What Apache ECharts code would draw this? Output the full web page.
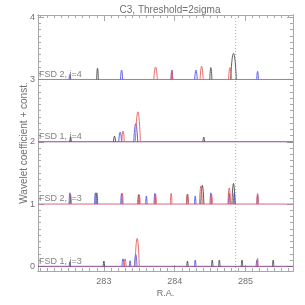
<!DOCTYPE html>
<html>
<head>
<meta charset="utf-8">
<script src="https://cdn.jsdelivr.net/npm/echarts@6/dist/echarts.min.js"></script>
<style>html,body{margin:0;padding:0;background:#fff}#c{width:305px;height:305px}</style>
</head>
<body>
<div id="c"></div>
<script>
// ---- data (R.A., wavelet coefficient), '-' separates peaks ----
var rowLabels = ['FSD 1, j=3', 'FSD 2, j=3', 'FSD 1, j=4', 'FSD 2, j=4'];
var rowOffsets = [0, 1, 2, 3];
var xTickLabels = [283, 284, 285];
var yTickLabels = [0, 1, 2, 3, 4];
var markRA = 284.86;

var r0Black = [[282.99,0],[283.00,0.085],[283.01,0],'-',[284.17,0],[284.18,0.085],[284.19,0],'-',[284.52,0],[284.53,0.10],[284.54,0],'-',[284.62,0],[284.63,0.10],[284.64,0],'-',[284.94,0],[284.95,0.10],[284.96,0],'-',[285.38,0],[285.39,0.10],[285.40,0]];
var r0Blue = [[282.51,0],[282.52,0.075],[282.53,0],'-',[283.255,0],[283.27,0.12],[283.285,0],'-',[283.36,0],[283.37,0.09],[283.38,0],'-',[283.432,0],[283.45,0.19],[283.468,0],'-',[284.28,0],[284.29,0.10],[284.30,0],'-',[285.15,0],[285.16,0.10],[285.17,0]];
var r0Red = [[283.288,0],[283.30,0.12],[283.312,0],'-',[283.44,0],[283.47,0.45],[283.50,0],'-',[285.162,0],[285.17,0.13],[285.178,0]];

var r1Black = [[282.888,0],[282.90,0.18],[282.912,0],'-',[283.478,0],[283.49,0.15],[283.502,0],'-',[284.168,0],[284.18,0.16],[284.192,0],'-',[284.368,0],[284.39,0.30],[284.412,0],'-',[284.808,0],[284.83,0.33],[284.852,0]];
var r1Blue = [[282.508,0],[282.52,0.18],[282.532,0],'-',[282.868,0],[282.88,0.18],[282.892,0],'-',[283.238,0],[283.25,0.17],[283.262,0],'-',[283.59,0],[283.60,0.13],[283.61,0],'-',[283.708,0],[283.72,0.17],[283.732,0],'-',[284.28,0],[284.29,0.13],[284.30,0],'-',[284.498,0],[284.51,0.18],[284.522,0],'-',[284.76,0],[284.77,0.17],[284.78,0],'-',[284.828,0],[284.84,0.18],[284.852,0],'-',[285.16,0],[285.17,0.14],[285.18,0]];
var r1Red = [[282.518,0],[282.53,0.15],[282.542,0],'-',[283.248,0],[283.26,0.17],[283.272,0],'-',[283.488,0],[283.50,0.15],[283.512,0],'-',[283.718,0],[283.73,0.16],[283.742,0],'-',[283.938,0],[283.95,0.17],[283.962,0],'-',[284.168,0],[284.18,0.16],[284.192,0],'-',[284.35,0],[284.37,0.29],[284.39,0],'-',[284.508,0],[284.52,0.16],[284.532,0],'-',[284.752,0],[284.77,0.26],[284.788,0],'-',[285.158,0],[285.17,0.17],[285.182,0]];

var r2Black = [[282.52,0],[282.53,0.08],[282.54,0],'-',[283.135,0],[283.15,0.09],[283.165,0],'-',[284.398,0],[284.41,0.075],[284.422,0]];
var r2Blue = [[283.21,0],[283.23,0.155],[283.25,0],'-',[283.422,0],[283.45,0.29],[283.478,0]];
var r2Red = [[283.252,0],[283.27,0.17],[283.288,0],'-',[283.445,0],[283.48,0.48],[283.515,0]];

var r3Black = [[282.898,0],[282.91,0.18],[282.922,0],'-',[284.495,0],[284.51,0.19],[284.525,0],'-',[284.79,0],[284.83,0.42],[284.87,0]];
var r3Blue = [[282.508,0],[282.52,0.08],[282.532,0],'-',[283.235,0],[283.25,0.15],[283.265,0],'-',[283.948,0],[283.96,0.15],[283.972,0],'-',[284.282,0],[284.30,0.15],[284.318,0],'-',[285.158,0],[285.17,0.13],[285.182,0]];
var r3Red = [[283.705,0],[283.73,0.20],[283.755,0],'-',[283.948,0],[283.96,0.14],[283.972,0],'-',[284.358,0],[284.38,0.21],[284.402,0],'-',[284.76,0],[284.78,0.19],[284.80,0]];

var rows = [[r0Black, r0Blue, r0Red],[r1Black, r1Blue, r1Red],[r2Black, r2Blue, r2Red],[r3Black, r3Blue, r3Red]];

// ---- chart ----
var XMIN = 282.07, XMAX = 285.67, YMIN = -0.075, YMAX = 4.035;
var minorX = [], minorY = [];
for (var i = 2821; i <= 2856; i++) minorX.push(i / 10);
for (var j = 0; j <= 40; j++) minorY.push(j / 10);

var axisColor = '#a8a8a8', textColor = '#707070';
var font = 'Liberation Sans';
function xAx(pos, vals, len, labels, extra) {
  var a = { type: 'value', position: pos, min: XMIN, max: XMAX, gridIndex: 0,
    axisLine: { show: true, onZero: false, lineStyle: { color: axisColor, width: 1 } },
    splitLine: { show: false },
    axisTick: { show: true, inside: true, length: len, customValues: vals, lineStyle: { color: axisColor } },
    axisLabel: labels ? { show: true, customValues: labels, color: textColor, fontSize: 9, fontFamily: font, margin: 6 } : { show: false } };
  return Object.assign(a, extra || {});
}
function yAx(pos, vals, len, labels, extra) {
  var a = { type: 'value', position: pos, min: YMIN, max: YMAX, gridIndex: 0,
    axisLine: { show: true, onZero: false, lineStyle: { color: axisColor, width: 1 } },
    splitLine: { show: false },
    axisTick: { show: true, inside: true, length: len, customValues: vals, lineStyle: { color: axisColor } },
    axisLabel: labels ? { show: true, customValues: labels, color: textColor, fontSize: 9, fontFamily: font, margin: 3 } : { show: false } };
  return Object.assign(a, extra || {});
}

var colors = ['#4a4a4a', '#5050e8', '#e45a5a'];
var baseColors = ['#8c4890', '#d06a86', '#8c4890', '#d06a86'];
var series = [];
rows.forEach(function (row, r) {
  var off = rowOffsets[r];
  series.push({ type: 'line', data: [[XMIN, off], [XMAX, off]], symbol: 'none', silent: true,
    lineStyle: { color: baseColors[r], width: 1 }, z: 3 });
  row.forEach(function (pts, k) {
    series.push({ type: 'line', symbol: 'none', smooth: 0.6, connectNulls: false, silent: true,
      data: pts.map(function (p) { return p === '-' ? '-' : [p[0], p[1] + off]; }),
      lineStyle: { color: colors[k], width: 0.9 }, z: 4 });
  });
  series.push({ type: 'scatter', symbolSize: 0, silent: true,
    data: [[XMIN, off + 0.085]],
    label: { show: true, position: 'right', distance: 1, formatter: rowLabels[r], color: '#606060', fontSize: 9, fontFamily: font }, z: 5 });
});
series.push({ type: 'line', symbol: 'none', silent: true, data: [[markRA, YMIN], [markRA, YMAX]],
  lineStyle: { color: '#b0b0b0', width: 1, type: [1, 2] }, z: 2 });

var chart = echarts.init(document.getElementById('c'), null, { renderer: 'canvas' });
chart.setOption({
  animation: false,
  backgroundColor: '#fff',
  title: { text: 'C3, Threshold=2sigma', left: 165, top: 0, textAlign: 'center',
    textStyle: { fontSize: 10, fontWeight: 'normal', color: '#707070', fontFamily: font } },
  grid: { left: 38, right: 12, top: 15, bottom: 34, containLabel: false },
  xAxis: [
    xAx('bottom', xTickLabels, 6, xTickLabels, { name: 'R.A.', nameLocation: 'middle', nameGap: 18, nameMoveOverlap: false, nameTextStyle: { color: textColor, fontSize: 9, fontFamily: font } }),
    xAx('bottom', minorX, 3, null),
    xAx('top', xTickLabels, 6, null),
    xAx('top', minorX, 3, null)
  ],
  yAxis: [
    yAx('left', yTickLabels, 6, yTickLabels, { name: 'Wavelet coefficient + const.', nameLocation: 'middle', nameGap: 9, nameMoveOverlap: false, nameTextStyle: { color: textColor, fontSize: 10, fontFamily: font } }),
    yAx('left', minorY, 3, null),
    yAx('right', yTickLabels, 6, null),
    yAx('right', minorY, 3, null)
  ],
  series: series
});
</script>
</body>
</html>
